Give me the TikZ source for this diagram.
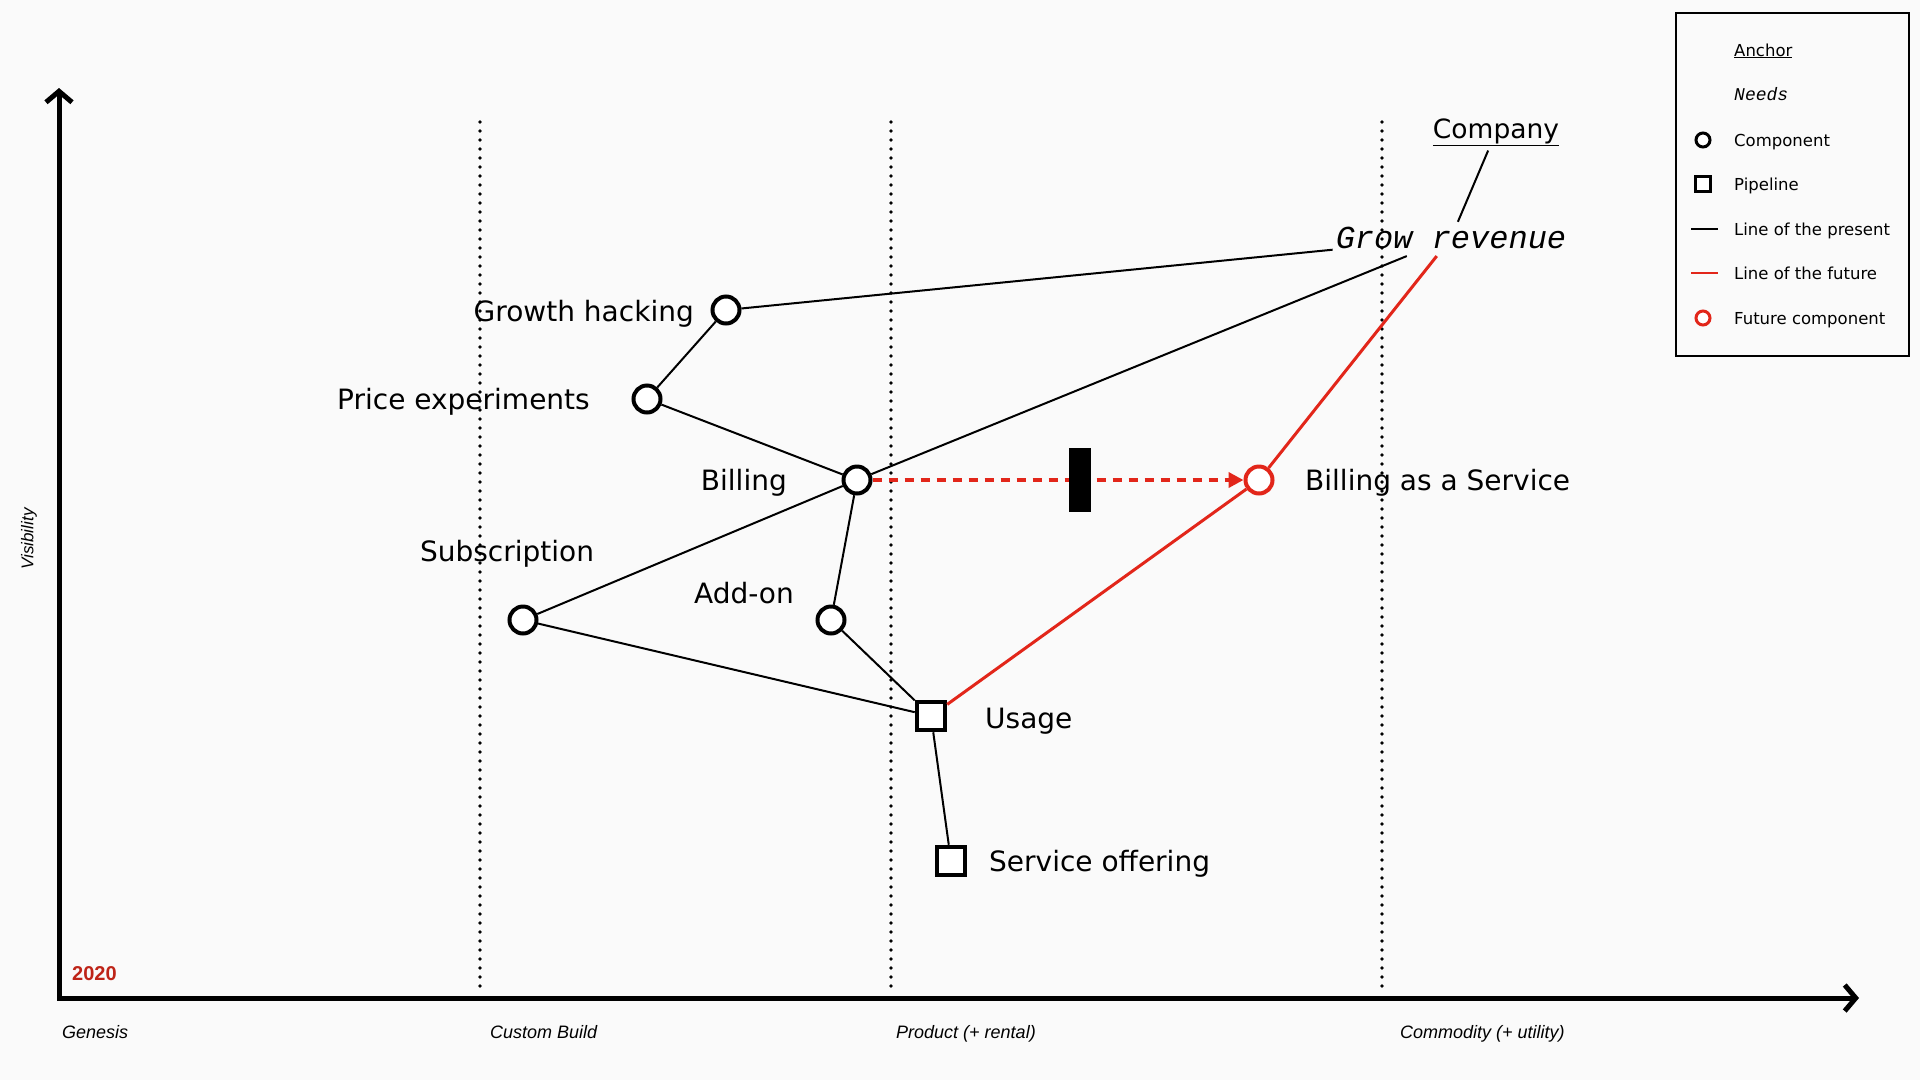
\documentclass[tikz,border=0pt]{standalone}
\usepackage{fontspec}
\setmainfont{DejaVu Sans}
\newfontfamily\monofam{Liberation Mono}
\newfontfamily\axisfam{Liberation Sans}
\usetikzlibrary{arrows.meta}
\definecolor{bgc}{RGB}{250,250,250}
\definecolor{fut}{RGB}{226,38,26}
\definecolor{yearred}{RGB}{190,36,24}
\tikzset{
  comp/.style={circle, draw=black, fill=white, line width=4pt, minimum size=27pt, inner sep=0pt},
  futcomp/.style={comp, draw=fut},
  pipe/.style={rectangle, draw=black, fill=white, line width=4.5pt, minimum size=28pt, inner sep=0pt},
  lbl/.style={inner sep=0pt, font=\fontsize{28}{32}\selectfont},
  conn/.style={line width=2pt, black},
  futconn/.style={line width=3pt, fut},
  evo/.style={line width=3.6pt, line cap=round, dash pattern=on 0pt off 9pt},
  axislbl/.style={inner sep=0pt, font=\axisfam\itshape\fontsize{18}{20}\selectfont},
  leglbl/.style={inner sep=0pt, anchor=base west, font=\fontsize{16.5}{18}\selectfont},
  legcomp/.style={circle, draw=black, fill=white, line width=3pt, minimum size=14pt, inner sep=0pt},
  legpipe/.style={rectangle, draw=black, fill=white, line width=3.2pt, minimum size=15pt, inner sep=0pt}
}
\begin{document}
\begin{tikzpicture}[x=1pt,y=-1pt]
\fill[bgc] (0,0) rectangle (1920,1080);

% evolution separators
\draw[evo] (480,122) -- (480,990);
\draw[evo] (891,122) -- (891,990);
\draw[evo] (1382,122) -- (1382,990);

% axes
\coordinate (ytop) at (59,88);
\coordinate (O) at (59,998);
\coordinate (xend) at (1859,998);
\draw[line width=5pt, line join=miter, {Straight Barb[length=11pt,width=26pt]}-{Straight Barb[length=11pt,width=26pt]}] (ytop) -- (O) -- (xend);

% axis labels
\node[axislbl, anchor=base west] (gen) at (62,1038) {Genesis};
\node[axislbl, anchor=base west] (cus) at (490,1038) {Custom Build};
\node[axislbl, anchor=base west] (prod) at (896,1038) {Product (+ rental)};
\node[axislbl, anchor=base west] (commo) at (1400,1038) {Commodity (+ utility)};
\node[axislbl, rotate=90, font=\axisfam\itshape\fontsize{17}{19}\selectfont] (vis) at (29,539) {Visibility};
\node[inner sep=0pt, anchor=base west, text=yearred, font=\axisfam\bfseries\fontsize{20}{22}\selectfont] (year) at (72,980) {2020};

% components
\node[comp] (gh) at (726,310) {};
\node[comp] (pe) at (647,399) {};
\node[comp] (bill) at (857,480) {};
\node[comp] (sub) at (523,620) {};
\node[comp] (add) at (831,620) {};
\node[pipe] (usage) at (931,716) {};
\node[pipe] (serv) at (951,861) {};
\node[futcomp] (baas) at (1259,480) {};

% labels
\node[lbl, anchor=base east] (ghl) at (694,321) {Growth hacking};
\node[lbl, anchor=base east] (pel) at (590,409) {Price experiments};
\node[lbl, anchor=base east] (billl) at (787,490) {Billing};
\node[lbl, anchor=base] (subl) at (507,561) {Subscription};
\node[lbl, anchor=base] (addl) at (744,603) {Add-on};
\node[lbl, anchor=base west] (usagel) at (985,728) {Usage};
\node[lbl, anchor=base west] (servl) at (989,871) {Service offering};
\node[lbl, anchor=base west] (baasl) at (1305,490) {Billing as a Service};

% anchor and need
\node[inner sep=2pt, font=\fontsize{26.5}{30}\selectfont] (company) at (1496,132) {\underline{Company}};
\node[inner xsep=3pt, inner ysep=7pt, font=\monofam\itshape\fontsize{32}{34}\selectfont] (gr) at (1451,238) {Grow revenue};

% connectors
\draw[conn, shorten <=3pt, shorten >=-2pt] (company) -- (gr);
\draw[conn] (gh) -- (gr);
\draw[conn] (bill) -- (gr);
\draw[futconn] (baas) -- (gr);
\draw[conn] (gh) -- (pe);
\draw[conn] (pe) -- (bill);
\draw[conn] (bill) -- (sub);
\draw[conn] (bill) -- (add);
\draw[conn] (sub) -- (usage);
\draw[conn] (add) -- (usage);
\draw[conn] (usage) -- (serv);
\draw[futconn] (usage) -- (baas);
\draw[fut, line width=4pt, dash pattern=on 9pt off 7pt, -{Triangle[length=15pt,width=15pt]}] (bill) -- (baas);

% inertia
\node[fill=black, minimum width=22pt, minimum height=64pt, inner sep=0pt] (inertia) at (1080,480) {};

% legend
\node[draw=black, line width=2pt, minimum width=233pt, minimum height=343pt, anchor=north west, inner sep=0pt] (legend) at (1675,12) {};
\node[leglbl] (lanchor) at (1734,56) {\underline{Anchor}};
\node[leglbl, font=\monofam\itshape\fontsize{18}{20}\selectfont] (lneeds) at (1734,100) {Needs};
\node[legcomp] (lcomp) at (1703,140) {};
\node[leglbl] (lcompt) at (1734,146) {Component};
\node[legpipe] (lpipe) at (1703,184) {};
\node[leglbl] (lpipet) at (1734,190) {Pipeline};
\coordinate (lp1) at (1691,229);
\coordinate (lp2) at (1718,229);
\draw[conn] (lp1) -- (lp2);
\node[leglbl] (lpt) at (1734,235) {Line of the present};
\coordinate (lf1) at (1691,273);
\coordinate (lf2) at (1718,273);
\draw[line width=2pt, fut] (lf1) -- (lf2);
\node[leglbl] (lft) at (1734,279) {Line of the future};
\node[legcomp, draw=fut] (lfc) at (1703,318) {};
\node[leglbl] (lfct) at (1734,324) {Future component};
\end{tikzpicture}
\end{document}
